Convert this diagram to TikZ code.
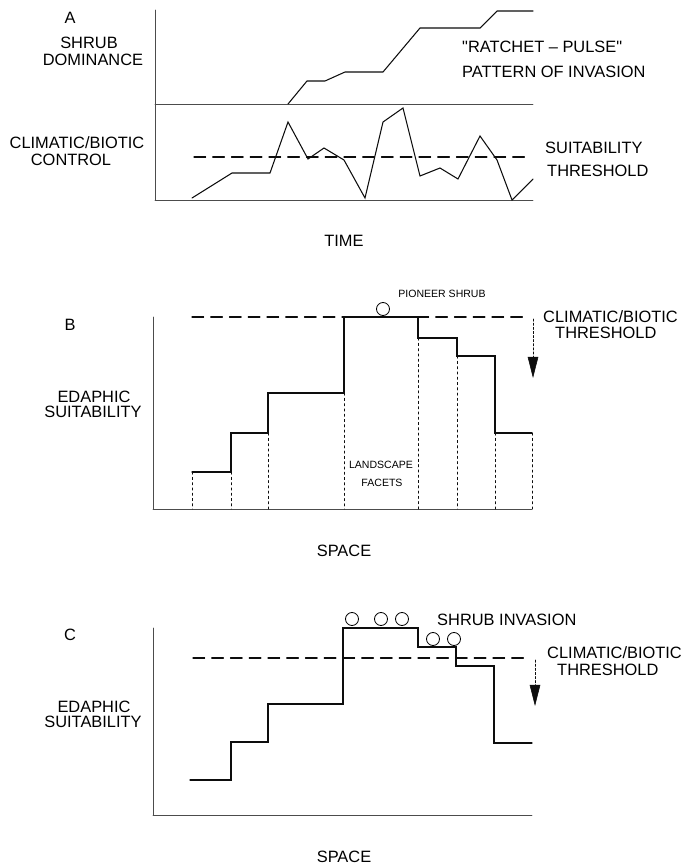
\documentclass[tikz,border=0pt]{standalone}
\usepackage{fontspec}
\setmainfont{Liberation Sans}
\usepackage{tkz-euclide}
\usetikzlibrary{arrows.meta}
\definecolor{AxisClr}{gray}{0.3}
\definecolor{CurveClr}{gray}{0.05}

\begin{document}
\begin{tikzpicture}[x=0.03cm,y=-0.03cm,
  lbl/.style={font=\fontsize{14}{15}\selectfont,inner sep=0pt},
  smalllbl/.style={font=\fontsize{9}{10}\selectfont,inner sep=0pt},
  axisline/.style={line width=.6pt,color=AxisClr},
  facet/.style={line width=.5pt,dash pattern=on 2pt off 2.5pt},
  thresh/.style={line width=.9pt,dash pattern=on 10pt off 6pt},
  drop/.style={line width=.5pt,dash pattern=on 2pt off 1.5pt,
    -{Triangle[length=18pt,width=9pt]}}]
\useasboundingbox (0,0) rectangle (687,866);
\tkzSetUpLine[line width=.9pt,color=CurveClr]

% A : time series
\tkzDefPoints{155/10/Ya,155/200/Oa,533/200/Xa,155/104/Ma,533/104/Na}
\tkzDefPoints{288/104/s1,307/81/s2,325/81/s3,345/72/s4,383/72/s5,420/28/s6,480/28/s7,497/11/s8,533/11/s9}
\tkzDefPoints{192/198/c1,232/173/c2,270/173/c3,288/122/c4,308/159/c5,324/148/c6,344/160/c7,365/198/c8,383/122/c9}
\tkzDefPoints{403/108/c10,420/176/c11,440/168/c12,458/179/c13,480/136/c14,497/160/c15,512/200/c16,533/179/c17}
\tkzDefPoints{194/157/Ta,527/157/Ua}

\tkzDrawSegments[axisline](Ya,Oa Oa,Xa Ma,Na)
\tkzDrawSegment[thresh](Ta,Ua)
\tkzDrawPolySeg(s1,s2,s3,s4,s5,s6,s7,s8,s9)
\tkzDrawPolySeg(c1,c2,c3,c4,c5,c6,c7,c8,c9,c10,c11,c12,c13,c14,c15,c16,c17)

\node[lbl,anchor=base] (tagA) at (70,23) {A};
\node[lbl,anchor=base] (domA) at (89,48) {SHRUB};
\node[lbl,anchor=base] (domB) at (93,65) {DOMINANCE};
\node[lbl,anchor=base] (ctlA) at (77,148) {CLIMATIC/BIOTIC};
\node[lbl,anchor=base] (ctlB) at (71,165) {CONTROL};
\node[lbl,anchor=base west] (patA) at (462,52) {\textquotedbl RATCHET -- PULSE\textquotedbl};
\node[lbl,anchor=base west] (patB) at (462,77) {PATTERN OF INVASION};
\node[lbl,anchor=base west] (suiA) at (545,153) {SUITABILITY};
\node[lbl,anchor=base west] (suiB) at (547,176) {THRESHOLD};
\node[lbl,anchor=base] (time) at (344,246) {TIME};

% B : one pioneer
\tkzDefPoints{153/317/Yb,153/509/Ob,532/509/Xb}
\tkzDefPoints{192/472/b1,231/472/b2,231/433/b3,268/433/b4,268/393/b5,344/393/b6,344/317/b7}
\tkzDefPoints{418/317/b8,418/338/b9,457/338/b10,457/356/b11,495/356/b12,495/433/b13,532/433/b14}
\tkzDefPoints{192/509/f1,231/509/f2,268/509/f3,344/509/f4,418/509/f5,457/509/f6,495/509/f7,532/509/f8}
\tkzDefPoints{192/317/Tb,527/317/Ub,533/319/Vb,533/378/Wb,383/309/Pb}

\tkzDrawSegments[axisline](Yb,Ob Ob,Xb)
\tkzDrawSegments[facet](b1,f1 b2,f2 b4,f3 b6,f4 b9,f5 b11,f6 b13,f7 b14,f8)
\tkzDrawSegment[thresh](Tb,Ub)
\tkzDrawSegment[drop](Vb,Wb)
\tkzDrawPolySeg(b1,b2,b3,b4,b5,b6,b7,b8,b9,b10,b11,b12,b13,b14)
\draw[line width=.7pt] (Pb) circle[radius=6.5];

\node[lbl,anchor=base] (tagB) at (70,330) {B};
\node[lbl,anchor=base] (edaB) at (94,402) {EDAPHIC};
\node[lbl,anchor=base] (suiBb) at (93,417) {SUITABILITY};
\node[smalllbl,anchor=base] (pion) at (442,297) {PIONEER SHRUB};
\node[lbl,anchor=base west] (thrB) at (543,322) {CLIMATIC/BIOTIC};
\node[lbl,anchor=base west] (thrBb) at (555,338) {THRESHOLD};
\node[smalllbl,anchor=base] (facA) at (381,468) {LANDSCAPE};
\node[smalllbl,anchor=base] (facB) at (382,486) {FACETS};
\node[lbl,anchor=base] (spaB) at (344,556) {SPACE};

% C : invasion
\tkzDefPoints{153/628/Yc,153/815/Oc,532/815/Xc}
\tkzDefPoints{190/780/d1,231/780/d2,231/742/d3,268/742/d4,268/704/d5,343/704/d6,343/628/d7}
\tkzDefPoints{418/628/d8,418/647/d9,456/647/d10,456/666/d11,494/666/d12,494/743/d13,532/743/d14}
\tkzDefPoints{193/658/Tc,527/658/Uc,535/660/Vc,535/706/Wc}
\tkzDefPoints{352/619/i1,381/619/i2,402/619/i3,433/639/i4,454/639/i5}

\tkzDrawSegments[axisline](Yc,Oc Oc,Xc)
\tkzDrawSegment[thresh](Tc,Uc)
\tkzDrawSegment[drop](Vc,Wc)
\tkzDrawPolySeg(d1,d2,d3,d4,d5,d6,d7,d8,d9,d10,d11,d12,d13,d14)
\draw[line width=.7pt] (i1) circle[radius=6.5] (i2) circle[radius=6.5] (i3) circle[radius=6.5]
  (i4) circle[radius=6.5] (i5) circle[radius=6.5];

\node[lbl,anchor=base] (tagC) at (70,640) {C};
\node[lbl,anchor=base] (edaC) at (94,712) {EDAPHIC};
\node[lbl,anchor=base] (suiC) at (93,727) {SUITABILITY};
\node[lbl,anchor=base west] (inva) at (437,625) {SHRUB INVASION};
\node[lbl,anchor=base west] (thrC) at (547,658) {CLIMATIC/BIOTIC};
\node[lbl,anchor=base west] (thrCb) at (557,675) {THRESHOLD};
\node[lbl,anchor=base] (spaC) at (344,862) {SPACE};

\end{tikzpicture}
\end{document}
